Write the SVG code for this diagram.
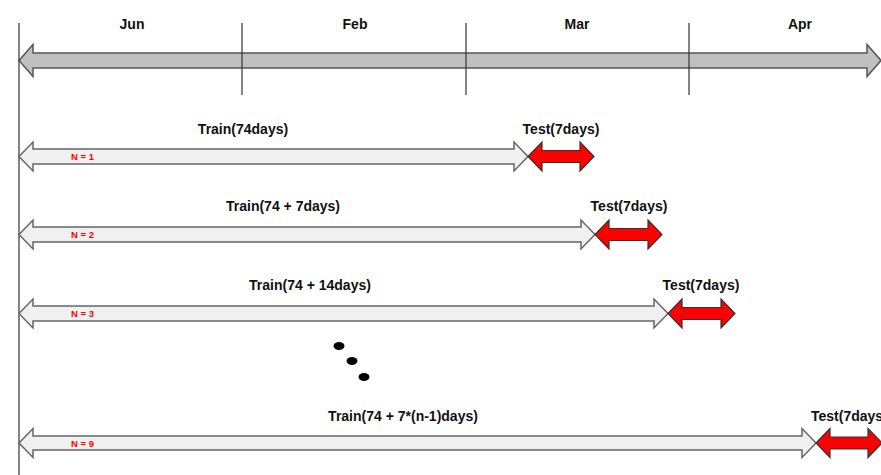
<svg xmlns="http://www.w3.org/2000/svg" width="881" height="475" viewBox="0 0 881 475">
  <style>
    .lbl { font-family: "Liberation Sans", Arial, sans-serif; font-weight: bold; font-size: 14px; fill: #111; }
    .n { font-family: "Liberation Sans", Arial, sans-serif; font-weight: bold; font-size: 9.5px; fill: #ff0000; }
    .axis { fill: #c0c0c0; stroke: #555; stroke-width: 1.5; }
    .train { fill: #f0f0f0; stroke: #666; stroke-width: 1.5; }
    .test { fill: #ff0000; stroke: #333; stroke-width: 1.2; }
    .tick { stroke: #333; stroke-width: 1.2; }
    .dot { fill: #000; }
  </style>
  <rect width="881" height="475" fill="#ffffff"/>

  <g id="timeline">
    <polygon class="axis" points="19,60.5 33,44.5 33,53 867,53 867,44.5 881,60.5 867,76.5 867,68 33,68 33,76.5"/>
    <text class="lbl" x="132" y="29" text-anchor="middle">Jun</text>
    <text class="lbl" x="355" y="29" text-anchor="middle">Feb</text>
    <text class="lbl" x="577" y="29" text-anchor="middle">Mar</text>
    <text class="lbl" x="800" y="29" text-anchor="middle">Apr</text>
  </g>

  <g id="connectors">
    <line class="tick" x1="19" y1="23" x2="19" y2="475"/>
    <line class="tick" x1="242" y1="23" x2="242" y2="95"/>
    <line class="tick" x1="466" y1="23" x2="466" y2="95"/>
    <line class="tick" x1="689" y1="23" x2="689" y2="95"/>
  </g>

  <g id="row1">
    <polygon class="train" points="19,156.5 33,142 33,149 514,149 514,142 528,156.5 514,171 514,164 33,164 33,171"/>
    <polygon class="test" points="528,156.5 542,142 542,150.5 580,150.5 580,142 594,156.5 580,171 580,162.5 542,162.5 542,171"/>
    <text class="lbl" x="243" y="134" text-anchor="middle">Train(74days)</text>
    <text class="lbl" x="561" y="134" text-anchor="middle">Test(7days)</text>
    <text class="n" x="71" y="159.5">N = 1</text>
  </g>

  <g id="row2">
    <polygon class="train" points="19,234.5 33,220 33,227 581,227 581,220 595,234.5 581,249 581,242 33,242 33,249"/>
    <polygon class="test" points="595,234.5 609,220 609,228.5 648,228.5 648,220 662,234.5 648,249 648,240.5 609,240.5 609,249"/>
    <text class="lbl" x="283" y="211" text-anchor="middle">Train(74 + 7days)</text>
    <text class="lbl" x="629" y="211" text-anchor="middle">Test(7days)</text>
    <text class="n" x="71" y="238">N = 2</text>
  </g>

  <g id="row3">
    <polygon class="train" points="19,313.5 33,299 33,306 654,306 654,299 668,313.5 654,328 654,321 33,321 33,328"/>
    <polygon class="test" points="668,313.5 682,299 682,307.5 721,307.5 721,299 735,313.5 721,328 721,319.5 682,319.5 682,328"/>
    <text class="lbl" x="310" y="290" text-anchor="middle">Train(74 + 14days)</text>
    <text class="lbl" x="701" y="290" text-anchor="middle">Test(7days)</text>
    <text class="n" x="71" y="317">N = 3</text>
  </g>

  <g id="ellipsis">
    <ellipse class="dot" cx="339" cy="346" rx="5.5" ry="4"/>
    <ellipse class="dot" cx="352" cy="361" rx="5.5" ry="4"/>
    <ellipse class="dot" cx="364" cy="377" rx="5.5" ry="4"/>
  </g>

  <g id="row9">
    <polygon class="train" points="19,443 33,428.5 33,436 802,436 802,428.5 816,443 802,457.5 802,450 33,450 33,457.5"/>
    <polygon class="test" points="816,443 830,428.5 830,437 868,437 868,428.5 882,443 868,457.5 868,449 830,449 830,457.5"/>
    <text class="lbl" x="403" y="421" text-anchor="middle">Train(74 + 7*(n-1)days)</text>
    <text class="lbl" x="811" y="421">Test(7days)</text>
    <text class="n" x="71" y="447">N = 9</text>
  </g>
</svg>
